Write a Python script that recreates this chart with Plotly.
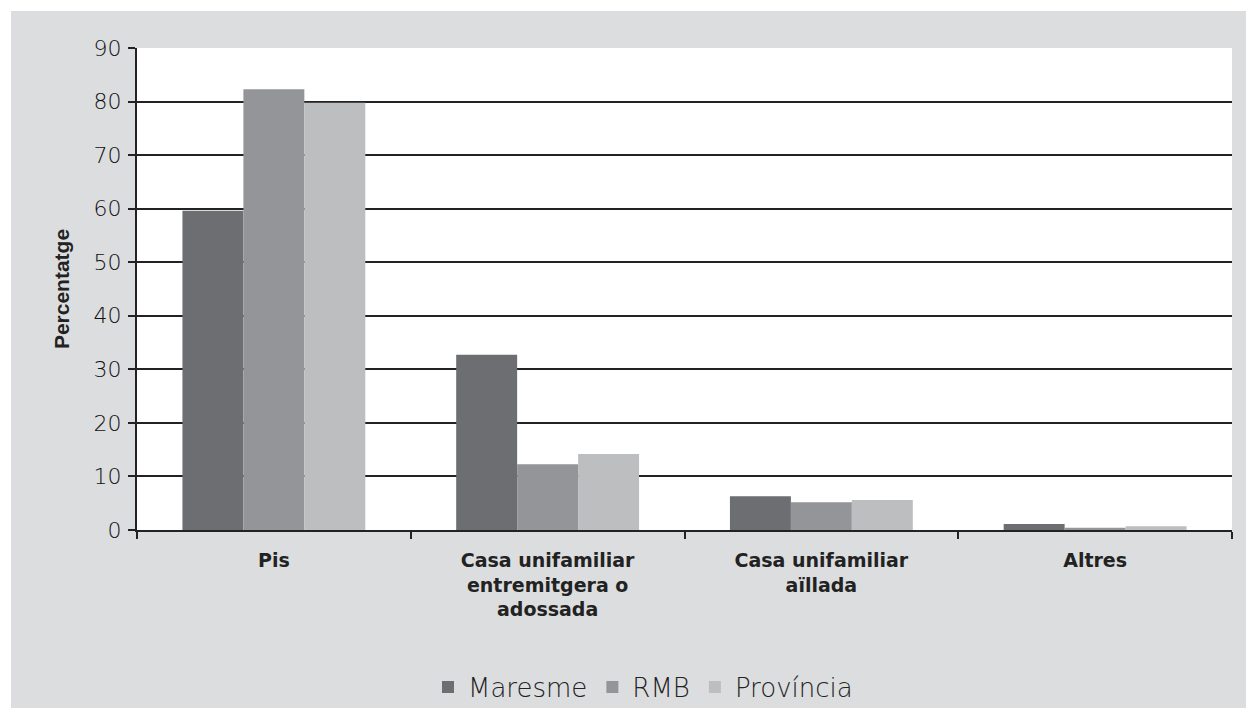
import plotly.graph_objects as go

categories = ["Pis", "Casa unifamiliar<br>entremitgera o<br>adossada", "Casa unifamiliar<br>aïllada", "Altres"]
series_names = ["Maresme", "RMB", "Província"]
maresme = [59.6, 32.7, 6.3, 1.1]
rmb = [82.3, 12.3, 5.2, 0.4]
provincia = [79.8, 14.2, 5.6, 0.7]
colors = ["#6d6e72", "#949599", "#bdbec0"]
y_ticks = [0, 10, 20, 30, 40, 50, 60, 70, 80, 90]

W, H = 1246, 708
# plot area in screen pixels: x 137..1232, y 48..530
L, T = 137, 48
R = W - 1232
B = H - 530
pw, ph = W - L - R, H - T - B


def px_x(sx):
    return (sx - L) / pw


def px_y(sy):
    return (T + ph - sy) / ph


fig = go.Figure()
for name, vals, col in zip(series_names, [maresme, rmb, provincia], colors):
    fig.add_trace(go.Bar(name=name, x=categories, y=vals, marker=dict(color=col, line=dict(width=0))))

fig.update_layout(
    width=W, height=H,
    margin=dict(l=L, r=R, t=T, b=B, autoexpand=False),
    paper_bgcolor="white",
    plot_bgcolor="white",
    barmode="group",
    bargap=0.332,
    bargroupgap=0,
    showlegend=True,
    legend=dict(
        orientation="h",
        x=px_x(643), xanchor="center",
        y=px_y(687), yanchor="middle",
        font=dict(family="DejaVu Sans", size=26, color="#222", weight=300),
        bgcolor="rgba(0,0,0,0)",
        itemwidth=30,
        traceorder="normal",
    ),
    xaxis=dict(
        showline=True, linecolor="#222", linewidth=2,
        ticks="outside", tickson="boundaries", ticklen=7, tickwidth=2, tickcolor="#222",
        tickfont=dict(family="DejaVu Sans", size=19, color="#222", weight="bold"),
        ticklabelstandoff=12,
        showgrid=False,
        automargin=False,
    ),
    yaxis=dict(
        range=[0, 90], tickvals=y_ticks,
        showline=True, linecolor="#222", linewidth=2,
        ticks="outside", ticklen=7, tickwidth=2, tickcolor="#222",
        tickfont=dict(family="DejaVu Sans", size=22, color="#111", weight=300),
        ticklabelstandoff=2,
        showgrid=True, gridcolor="#222", gridwidth=1.5,
        zeroline=False,
        title=dict(text="Percentatge", standoff=18,
                   font=dict(family="Liberation Sans, Arial, sans-serif",
                             size=21, color="#222", weight="bold")),
        automargin=False,
    ),
    shapes=[
        dict(
            type="rect", xref="paper", yref="paper", layer="below",
            x0=px_x(11), x1=px_x(1260),
            y0=px_y(720), y1=px_y(11),
            fillcolor="#dcdddf", line=dict(width=0),
        ),
        dict(
            type="rect", xref="paper", yref="paper", layer="below",
            x0=0, x1=1, y0=0, y1=1,
            fillcolor="white", line=dict(width=0),
        ),
    ],
)

fig.write_html(
    "out.html",
    config={"displayModeBar": False},
    post_script="document.body.style.margin='0';document.body.style.overflow='hidden';",
)
